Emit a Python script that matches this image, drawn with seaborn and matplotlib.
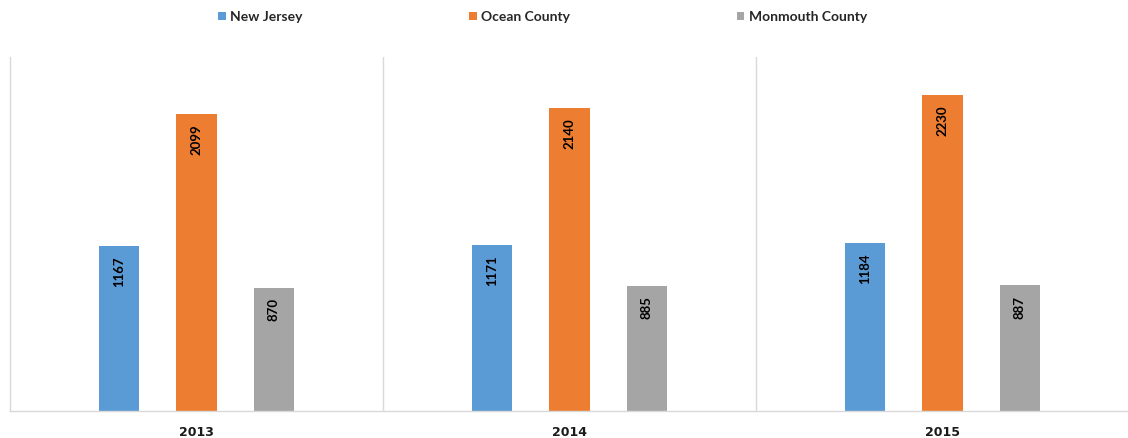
import pandas as pd
import matplotlib
matplotlib.use("Agg")
import matplotlib.pyplot as plt
import seaborn as sns

years = ["2013", "2014", "2015"]
regions = ["New Jersey", "Ocean County", "Monmouth County"]
new_jersey = [1167, 1171, 1184]
ocean_county = [2099, 2140, 2230]
monmouth_county = [870, 885, 887]
colors = ["#5B9BD5", "#ED7D31", "#A5A5A5"]

rows = []
for series, vals in zip(regions, [new_jersey, ocean_county, monmouth_county]):
    for yr, v in zip(years, vals):
        rows.append({"year": yr, "region": series, "value": v})
df = pd.DataFrame(rows)

sns.set_style("white")
plt.rcParams["font.family"] = ["Lato", "DejaVu Sans"]

fig = plt.figure(figsize=(11.28, 4.38), dpi=100)
ax = fig.add_axes([10 / 1128, 27 / 438, 1119 / 1128, 354 / 438])

sns.barplot(data=df, x="year", y="value", hue="region", hue_order=regions,
            palette=colors, width=0.62, gap=0.48, ax=ax, saturation=1,
            edgecolor="none", errorbar=None)

# value labels, rotated, just inside the top of each bar
for cont in ax.containers:
    for bar in cont:
        h = bar.get_height()
        ax.annotate(f"{h:.0f}", (bar.get_x() + bar.get_width() / 2, h),
                    xytext=(0, -7.5), textcoords="offset points",
                    rotation=90, ha="center", va="top",
                    fontsize=9.5, fontweight="bold", color="black")

ax.set_xlim(-0.5, 2.5)
ax.set_ylim(0, 2500)
ax.set_yticks([])
ax.set_xlabel("")
ax.set_ylabel("")
ax.set_xticks(range(len(years)), years)
ax.tick_params(axis="x", length=0, pad=11)
plt.setp(ax.get_xticklabels(), family="DejaVu Sans", fontweight="bold",
         fontsize=9, color="#1a1a1a")

# group separators
for xv in [0.5, 1.5]:
    ax.axvline(xv, color="#D9D9D9", lw=1)
for side in ["top", "right"]:
    ax.spines[side].set_visible(False)
for side in ["left", "bottom"]:
    ax.spines[side].set_color("#D9D9D9")
    ax.spines[side].set_linewidth(1)

handles, labels = ax.get_legend_handles_labels()
ax.get_legend().remove()
leg = fig.legend(handles, labels, loc="center", bbox_to_anchor=(0.481, 1 - 17 / 438),
                 ncol=3, frameon=False, handlelength=0.55, handleheight=0.55,
                 handletextpad=0.3, columnspacing=12.0,
                 prop={"weight": "bold", "size": 10})

fig.savefig("out.png", dpi=100)
plt.close(fig)
